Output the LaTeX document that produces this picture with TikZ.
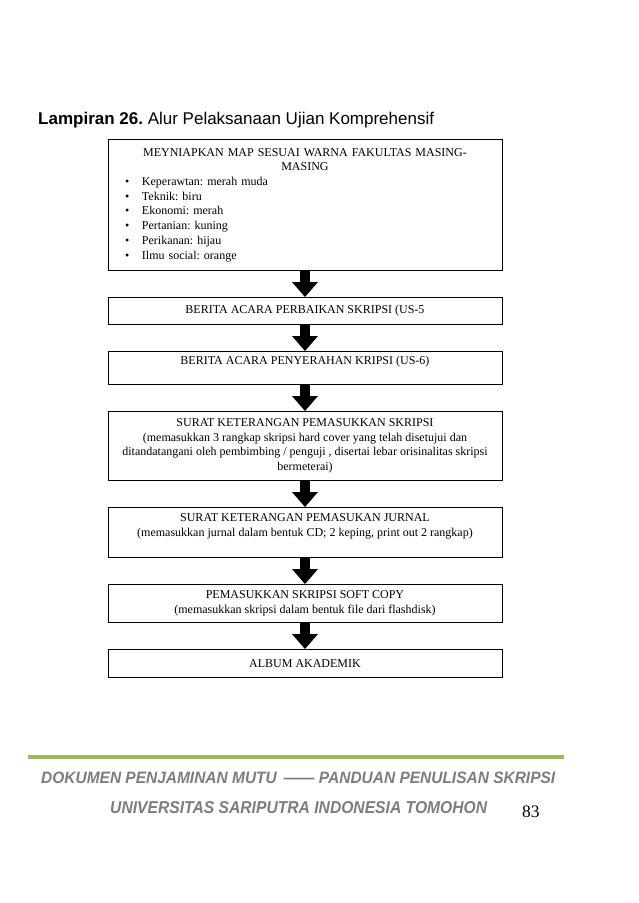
\documentclass[tikz,border=0pt]{standalone}
\usepackage{fontspec}
\usepackage{graphicx}
\setmainfont{Liberation Serif}
\newfontfamily\arialf{Liberation Sans}
\usetikzlibrary{arrows.meta}
\definecolor{footgreen}{RGB}{155,187,89}
\definecolor{footgray}{RGB}{125,125,125}
\frenchspacing
\tikzset{
  flowbox/.style={draw=black, line width=0.9pt, minimum width=394pt, anchor=north,
    align=center, inner xsep=0pt, inner ysep=0pt, font=\fontsize{12}{14.5}\selectfont},
  bigarrow/.style={line width=10pt, -{Triangle[width=26pt,length=15pt,line width=0pt]}},
  plaintext/.style={anchor=base west, inner sep=0pt},
}
\begin{document}
\begin{tikzpicture}[x=1pt,y=-1pt]
\path[use as bounding box, fill=white] (0,0) rectangle (638,903);
\node[plaintext, font=\arialf\fontsize{17}{20}\selectfont] (title) at (38,124)
  {\textbf{Lampiran 26.} Alur Pelaksanaan Ujian Komprehensif};

\node[flowbox, minimum height=131pt, text width=394pt, align=left,
  font=\fontsize{12}{14.7}\selectfont] (b1) at (305,139)
 {\setlength\parindent{0pt}\frenchspacing
  {\centering MEYNIAPKAN MAP SESUAI WARNA FAKULTAS MASING-\\MASING\par}
  \hspace*{17pt}\makebox[17pt][l]{\textbullet}Keperawtan: merah muda\par
  \hspace*{17pt}\makebox[17pt][l]{\textbullet}Teknik: biru\par
  \hspace*{17pt}\makebox[17pt][l]{\textbullet}Ekonomi: merah\par
  \hspace*{17pt}\makebox[17pt][l]{\textbullet}Pertanian: kuning\par
  \hspace*{17pt}\makebox[17pt][l]{\textbullet}Perikanan: hijau\par
  \hspace*{17pt}\makebox[17pt][l]{\textbullet}Ilmu social: orange\par};

\node[flowbox, minimum height=27pt] (b2) at (305,297) {BERITA ACARA PERBAIKAN SKRIPSI (US-5};
\node[flowbox, minimum height=33pt] (b3) at (305,351) {BERITA ACARA PENYERAHAN KRIPSI (US-6)\\[0pt]\mbox{}};
\node[flowbox, minimum height=69pt] (b4) at (305,411) {SURAT KETERANGAN PEMASUKKAN SKRIPSI\\(memasukkan 3 rangkap skripsi hard cover yang telah disetujui dan\\ditandatangani oleh pembimbing / penguji , disertai lebar orisinalitas skripsi\\bermeterai)};
\node[flowbox, minimum height=50pt] (b5) at (305,507) {SURAT KETERANGAN PEMASUKAN JURNAL\\(memasukkan jurnal dalam bentuk CD; 2 keping, print out 2 rangkap)\\[0pt]\mbox{}};
\node[flowbox, minimum height=38pt] (b6) at (305,584) {PEMASUKKAN SKRIPSI SOFT COPY\\(memasukkan skripsi dalam bentuk file dari flashdisk)};
\node[flowbox, minimum height=28pt] (b7) at (305,649) {ALBUM AKADEMIK};

\draw[bigarrow] (b1.south) -- (b2.north);
\draw[bigarrow] (b2.south) -- (b3.north);
\draw[bigarrow] (b3.south) -- (b4.north);
\draw[bigarrow] (b4.south) -- (b5.north);
\draw[bigarrow] (b5.south) -- (b6.north);
\draw[bigarrow] (b6.south) -- (b7.north);

\draw[footgreen, line width=4.3pt] (28,757) -- (564,757);
\node[plaintext, text=footgray] (foot1) at (41,783)
  {\resizebox{514pt}{11.5pt}{\arialf\bfseries\itshape DOKUMEN PENJAMINAN MUTU \,—— PANDUAN PENULISAN SKRIPSI}};
\node[plaintext, text=footgray] (foot2) at (110,813)
  {\resizebox{377pt}{12pt}{\arialf\bfseries\itshape UNIVERSITAS SARIPUTRA INDONESIA TOMOHON}};
\node[plaintext, font=\fontsize{17.5}{20}\selectfont] (pg) at (522,817) {83};
\end{tikzpicture}
\end{document}
